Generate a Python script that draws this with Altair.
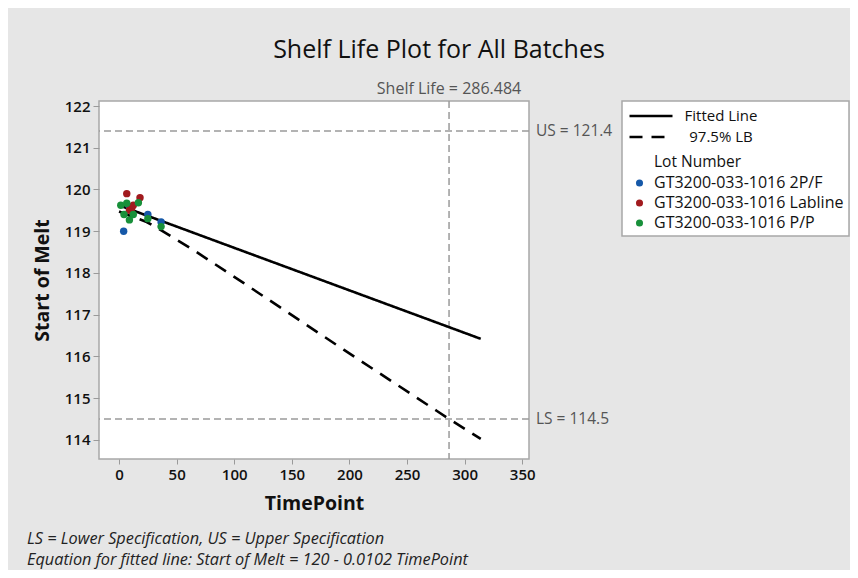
import altair as alt
import pandas as pd

FONT = "Open Sans"

# ---------------- data ----------------
lots = ["GT3200-033-1016 2P/F", "GT3200-033-1016 Labline", "GT3200-033-1016 P/P"]
lot_colors = ["#1558A8", "#A11A1E", "#18903A"]

blue_t = [4.0, 9.0, 25.0, 36.5]
blue_y = [119.00, 119.58, 119.40, 119.22]
red_t = [6.7, 9.0, 11.0, 12.4, 18.2]
red_y = [119.90, 119.50, 119.55, 119.62, 119.80]
green_t = [1.5, 4.3, 6.7, 9.0, 12.4, 16.8, 25.0, 36.5]
green_y = [119.62, 119.40, 119.67, 119.27, 119.40, 119.68, 119.30, 119.11]

fit_t = [0, 314]
fit_y = [119.62, 116.42]

lb_t = [0, 24, 38.5, 64.5, 108, 151, 195, 238, 276, 286.5, 314]
lb_y = [119.47, 119.22, 118.99, 118.55, 117.76, 116.97, 116.16, 115.38, 114.69, 114.50, 114.02]

spec_names = ["US", "LS"]
spec_values = [121.4, 114.5]
shelf_life = 286.484

line_names = ["Fitted Line", "97.5% LB"]
legend_title = "Lot Number"

x_ticks = [0, 50, 100, 150, 200, 250, 300, 350]
y_ticks = [114, 115, 116, 117, 118, 119, 120, 121, 122]

title_text = "Shelf Life Plot for All Batches"
footnote = ["LS = Lower Specification, US = Upper Specification",
            "Equation for fitted line: Start of Melt = 120 - 0.0102 TimePoint"]

# ---------------- tables ----------------
pts = pd.DataFrame(
    {"t": blue_t + red_t + green_t,
     "y": blue_y + red_y + green_y,
     "lot": [lots[0]] * len(blue_t) + [lots[1]] * len(red_t) + [lots[2]] * len(green_t)}
)
lines_df = pd.DataFrame(
    {"t": fit_t + lb_t, "y": fit_y + lb_y,
     "series": [line_names[0]] * len(fit_t) + [line_names[1]] * len(lb_t)}
)
spec_df = pd.DataFrame({"v": spec_values,
                        "lab": [f"{n} = {v}" for n, v in zip(spec_names, spec_values)]})
shelf_df = pd.DataFrame({"s": [shelf_life], "lab": [f"Shelf Life = {shelf_life}"]})
foot_df = pd.DataFrame({"txt": ["\n".join(footnote)]})
ltitle_df = pd.DataFrame({"txt": [legend_title]})
one = pd.DataFrame({"a": [0]})

W, H = 430, 358

xscale = alt.Scale(domain=[-17.4, 355.9], nice=False, zero=False)
yscale = alt.Scale(domain=[113.54, 122.12], nice=False, zero=False)

xaxis = alt.Axis(values=x_ticks, title="TimePoint", grid=False, domain=False,
                 tickColor="#9A9A9A", tickSize=5, labelFontSize=15, labelFontWeight=600,
                 labelColor="#111", labelFont=FONT, titleFont=FONT, titleFontSize=19.5,
                 titleFontWeight="bold", titleColor="#111", labelPadding=3, titlePadding=12)
yaxis = alt.Axis(values=y_ticks, title="Start of Melt", grid=False, domain=False,
                 tickColor="#9A9A9A", tickSize=6, labelFontSize=15, labelFontWeight=600,
                 labelColor="#111", labelFont=FONT, titleFont=FONT, titleFontSize=19.5,
                 titleFontWeight="bold", titleColor="#111", labelPadding=3, titlePadding=12)

X = alt.X("t:Q", scale=xscale, axis=xaxis)
Y = alt.Y("y:Q", scale=yscale, axis=yaxis)

legend_box = alt.Chart(one).mark_rect(fill="white", stroke="#A8A8A8", strokeWidth=1.5).encode(
    x=alt.value(523), x2=alt.value(750), y=alt.value(0), y2=alt.value(135)
)

spec_rules = alt.Chart(spec_df).mark_rule(color="#9A9A9A", strokeWidth=1.5, strokeDash=[7, 4]).encode(
    y=alt.Y("v:Q", scale=yscale)
)
shelf_rule = alt.Chart(shelf_df).mark_rule(color="#9A9A9A", strokeWidth=1.5, strokeDash=[7, 4]).encode(
    x=alt.X("s:Q", scale=xscale)
)

lines = alt.Chart(lines_df).mark_line(color="black", strokeWidth=2.6).encode(
    x=X, y=Y,
    strokeDash=alt.StrokeDash(
        "series:N",
        scale=alt.Scale(domain=line_names, range=[[1, 0], [13, 9]]),
        legend=alt.Legend(orient="none", legendX=529, legendY=4.5, title=None,
                          symbolType="stroke", symbolSize=1849, symbolStrokeWidth=2.6,
                          symbolStrokeColor="black", clipHeight=21, rowPadding=0, padding=0,
                          labelFontSize=15, labelFont=FONT, labelColor="#111",
                          labelAlign="center", labelOffset=47),
    ),
)

points = alt.Chart(pts).mark_circle(size=55, opacity=1).encode(
    x=X, y=Y,
    color=alt.Color(
        "lot:N",
        scale=alt.Scale(domain=lots, range=lot_colors),
        legend=alt.Legend(orient="none", legendX=532.5, legendY=74, title=None,
                          symbolType="circle", symbolSize=50,
                          labelOffset=6.5, rowPadding=4, padding=0, labelLimit=300,
                          labelFontSize=16, labelFont=FONT, labelColor="#111"),
    ),
)

ltitle = alt.Chart(ltitle_df).mark_text(align="left", baseline="middle", font=FONT,
                                        fontSize=15.5, color="#111").encode(
    x=alt.value(555), y=alt.value(61), text="txt:N"
)

spec_text = alt.Chart(spec_df).mark_text(align="left", baseline="middle", font=FONT,
                                         fontSize=15.5, color="#555").encode(
    x=alt.value(W + 7), y=alt.Y("v:Q", scale=yscale), text="lab:N"
)
shelf_text = alt.Chart(shelf_df).mark_text(align="center", baseline="bottom", font=FONT,
                                           fontSize=16, color="#555").encode(
    x=alt.X("s:Q", scale=xscale), y=alt.value(-4), text="lab:N"
)
foot_text = alt.Chart(foot_df).mark_text(align="left", baseline="top", font=FONT, fontSize=16.3,
                                         fontStyle="italic", color="#222", lineBreak="\n",
                                         lineHeight=21).encode(
    x=alt.value(-72), y=alt.value(430), text="txt:N"
)

chart = alt.layer(
    legend_box, spec_rules, shelf_rule, lines, points, ltitle, spec_text, shelf_text, foot_text
).properties(
    width=W, height=H,
    background="#E6E6E6",
    padding={"left": 91, "top": 93, "right": 321, "bottom": 111},
    autosize=alt.AutoSizeParams(type="none"),
    title=alt.TitleParams(title_text, anchor="middle", frame="group", dx=125, offset=18,
                          font=FONT, fontSize=25, fontWeight="normal", color="#111"),
).configure_view(
    fill="white", stroke="#A8A8A8", strokeWidth=1.5
)

chart.save("out.html", embed_options={"renderer": "svg", "actions": False})
